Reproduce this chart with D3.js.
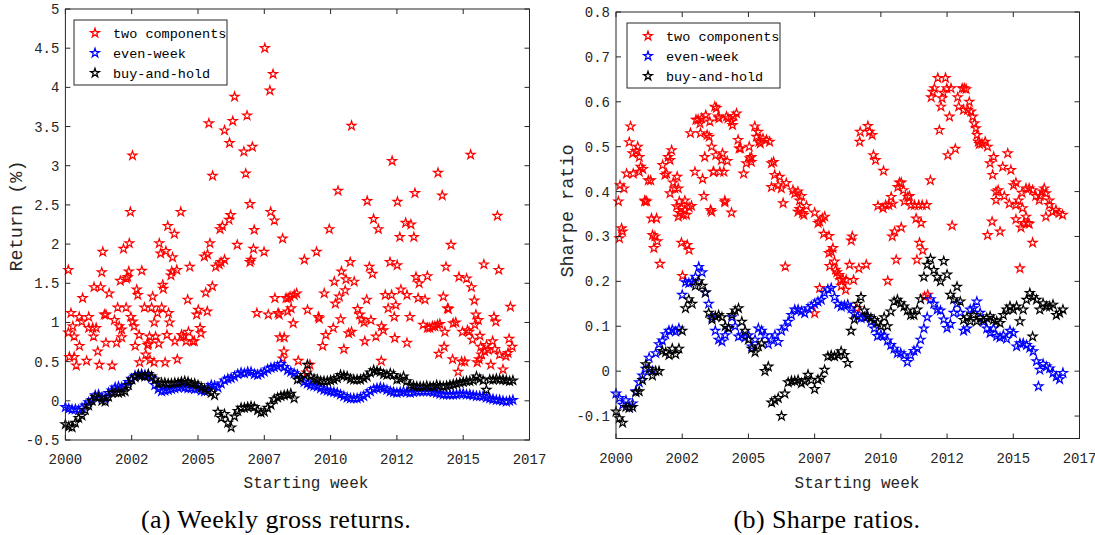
<!DOCTYPE html>
<html>
<head>
<meta charset="utf-8">
<script src="https://cdn.jsdelivr.net/npm/d3@7"></script>
<style>
  body { margin: 0; background: #fff; }
  svg { display: block; }
</style>
</head>
<body>
<svg id="fig" width="1095" height="535"></svg>
<script>
// ---- data ----
const xTickVals = [2000, 2002.5, 2005, 2007.5, 2010, 2012.5, 2015, 2017.5];
const xTickLabels = ["2000", "2002", "2005", "2007", "2010", "2012", "2015", "2017"];
const retTicks = [-0.5, 0, 0.5, 1, 1.5, 2, 2.5, 3, 3.5, 4, 4.5, 5];
const sharpeTicks = [-0.1, 0, 0.1, 0.2, 0.3, 0.4, 0.5, 0.6, 0.7, 0.8];
const seriesNames = ["two components", "even-week", "buy-and-hold"];

// dense series are sampled every 1/8 year starting at 2000
const gridStart = 2000, gridStep = 0.125;

// (a) weekly gross returns, two components: [year, return %]
const retTwo = [
  [2002.53,3.13],[2005.41,3.54],[2005.55,2.87],[2006.00,3.45],[2006.19,3.29],[2006.31,3.57],[2006.38,3.88],
  [2006.73,3.18],[2006.80,2.90],[2006.85,3.64],[2007.05,3.24],[2007.52,4.50],[2007.71,3.96],[2007.83,4.17],
  [2010.28,2.68],[2010.79,3.51],[2012.32,3.06],[2013.18,2.65],[2014.05,2.91],[2014.21,2.62],[2015.28,3.14],
  [2000.11,1.67],[2000.11,0.87],[2000.21,1.12],[2000.28,0.95],[2000.33,0.82],[2000.15,0.56],[2000.33,0.56],
  [2000.41,0.45],[2000.52,1.07],[2000.53,0.70],[2000.62,1.01],[2000.65,1.31],[2000.80,0.51],[2000.88,1.07],
  [2000.88,0.93],[2001.03,0.93],[2001.06,0.82],[2001.08,1.45],[2001.16,0.93],[2001.22,0.63],[2001.28,0.46],
  [2001.33,1.45],[2001.37,1.64],[2001.41,1.90],[2001.47,1.10],[2001.53,1.10],[2001.53,0.74],[2001.65,1.37],
  [2001.76,0.45],[2001.85,1.03],[2001.93,0.74],[2001.97,1.19],[2002.03,0.95],[2002.07,1.53],[2002.12,0.91],
  [2002.12,0.81],[2002.19,1.94],[2002.29,1.19],[2002.30,1.56],[2002.35,1.58],[2002.39,1.65],[2002.41,2.01],
  [2002.45,2.41],[2002.47,1.07],[2002.54,1.01],[2002.59,0.95],[2002.63,0.70],[2002.69,1.42],[2002.73,1.35],
  [2002.78,0.84],[2002.80,0.49],[2002.88,1.66],[2002.98,1.19],[2003.03,0.59],[2003.10,0.71],[2003.13,0.73],
  [2003.17,0.82],[2003.19,0.52],[2003.25,1.19],[2003.29,1.33],[2003.34,0.49],[2003.35,1.00],[2003.40,0.82],
  [2003.47,1.12],[2003.52,0.73],[2003.54,2.01],[2003.59,1.88],[2003.63,1.19],[2003.67,1.48],[2003.69,1.43],
  [2003.76,0.49],[2003.79,1.91],[2003.83,0.84],[2003.86,2.23],[2003.89,1.12],[2003.93,1.00],[2003.98,1.60],
  [2004.01,1.65],[2004.04,1.83],[2004.11,2.13],[2004.13,0.76],[2004.20,1.67],[2004.22,0.53],[2004.35,2.41],
  [2004.38,0.84],[2004.45,0.82],[2004.55,0.76],[2004.61,1.29],[2004.64,0.88],[2004.69,1.71],[2004.80,0.76],
  [2004.86,0.76],[2004.95,1.10],[2005.01,1.16],[2005.08,0.93],[2005.11,0.86],[2005.24,1.84],[2005.29,1.38],
  [2005.36,1.87],[2005.35,1.14],[2005.45,2.01],[2005.54,1.46],[2005.67,1.71],[2005.80,1.74],[2005.87,1.77],
  [2005.83,2.19],[2005.92,2.23],[2006.00,1.80],[2006.17,2.31],[2006.23,2.37],[2006.48,1.99],[2006.96,2.51],
  [2006.96,1.77],[2007.00,1.80],[2007.09,1.94],[2007.12,2.18],[2007.22,1.12],[2007.49,1.90],[2007.65,1.10],
  [2007.74,2.41],[2007.88,2.30],[2007.90,1.31],[2008.02,1.12],[2008.06,1.10],[2008.09,0.81],[2008.19,2.07],
  [2008.25,0.81],[2008.24,0.63],[2008.19,0.54],[2008.32,1.31],[2008.38,1.14],[2008.40,1.31],[2008.47,1.33],
  [2008.51,1.18],[2008.59,0.99],[2008.63,1.35],[2008.72,1.37],[2008.78,0.51],[2009.01,1.80],[2009.10,0.36],
  [2009.13,1.16],[2009.22,0.46],[2009.47,1.90],[2009.54,1.07],[2009.57,1.05],[2009.70,0.70],[2009.76,1.37],
  [2009.82,0.84],[2009.95,2.19],[2010.10,0.93],[2010.14,1.52],[2010.18,1.24],[2010.33,1.33],[2010.38,1.04],
  [2010.41,1.65],[2010.50,0.66],[2010.55,1.41],[2010.58,1.55],[2010.68,0.86],[2010.74,1.77],[2010.79,0.88],
  [2010.89,1.52],[2011.02,1.17],[2011.10,1.10],[2011.17,1.04],[2011.26,1.00],[2011.29,0.76],[2011.36,1.29],
  [2011.38,2.55],[2011.46,1.71],[2011.52,1.03],[2011.58,1.62],[2011.62,2.32],[2011.71,0.82],[2011.80,2.19],
  [2011.91,0.51],[2011.92,0.95],[2011.99,0.90],[2012.06,1.35],[2012.17,1.18],[2012.24,1.77],[2012.30,1.35],
  [2012.40,1.07],[2012.42,0.80],[2012.46,1.22],[2012.51,1.73],[2012.52,2.54],[2012.61,2.09],[2012.65,1.42],
  [2012.83,2.27],[2012.88,1.35],[2012.88,0.74],[2012.99,1.07],[2013.03,2.25],[2013.14,2.09],[2013.22,1.58],
  [2013.34,1.50],[2013.30,1.31],[2013.49,0.97],[2013.56,1.29],[2013.65,1.59],[2013.65,0.93],[2013.74,0.93],
  [2013.84,0.95],[2013.93,0.95],[2014.03,0.97],[2014.08,0.60],[2014.12,0.98],[2014.25,1.33],[2014.28,0.69],
  [2014.31,0.88],[2014.35,1.71],[2014.41,1.18],[2014.44,1.17],[2014.54,1.99],[2014.60,0.53],[2014.62,0.99],
  [2014.72,1.00],[2014.81,0.37],[2014.84,1.58],[2014.94,0.50],[2014.97,0.88],[2015.06,0.50],[2015.13,1.56],
  [2015.16,0.90],[2015.22,0.88],[2015.31,1.45],[2015.35,0.78],[2015.42,1.28],[2015.44,0.97],[2015.48,1.10],
  [2015.53,0.49],[2015.57,1.03],[2015.60,0.53],[2015.63,0.83],[2015.66,0.69],[2015.69,0.59],[2015.78,1.74],
  [2015.81,0.63],[2015.88,0.71],[2015.94,0.65],[2016.04,0.46],[2016.11,0.76],[2016.16,1.07],[2016.19,0.66],
  [2016.23,1.01],[2016.29,2.36],[2016.34,1.67],[2016.37,0.59],[2016.50,0.40],[2016.61,0.57],[2016.69,0.61],
  [2016.73,0.79],[2016.78,1.20],[2016.85,0.69]
];

// (a) even-week, every 1/8 year from 2000
const retEven = [
  -0.08,-0.10,-0.11,-0.11,-0.12,-0.09,-0.06,-0.02, 0.01, 0.07, 0.08, 0.04, 0.03, 0.10, 0.13, 0.17,
   0.18, 0.17, 0.19, 0.24, 0.28, 0.32, 0.33, 0.34, 0.33, 0.32, 0.29, 0.20, 0.15, 0.12, 0.13, 0.14,
   0.15, 0.16, 0.17, 0.18, 0.17, 0.16, 0.16, 0.15, 0.16, 0.13, 0.12, 0.17, 0.20, 0.19, 0.17, 0.22,
   0.26, 0.28, 0.29, 0.31, 0.34, 0.36, 0.35, 0.37, 0.37, 0.34, 0.33, 0.35, 0.37, 0.40, 0.42, 0.43,
   0.44, 0.47, 0.43, 0.39, 0.37, 0.35, 0.33, 0.28, 0.24, 0.22, 0.20, 0.19, 0.18, 0.16, 0.14, 0.13,
   0.12, 0.11, 0.10, 0.08, 0.06, 0.04, 0.03, 0.03, 0.03, 0.04, 0.06, 0.09, 0.12, 0.15, 0.16, 0.17,
   0.16, 0.14, 0.12, 0.11, 0.10, 0.11, 0.12, 0.11, 0.10, 0.11, 0.12, 0.12, 0.12, 0.12, 0.12, 0.11,
   0.10, 0.09, 0.08, 0.08, 0.08, 0.08, 0.08, 0.09, 0.09, 0.08, 0.08, 0.07, 0.06, 0.06, 0.06, 0.04,
   0.03, 0.02, 0.01, 0.01, 0.00,-0.01, 0.00, 0.01
];

// (a) buy-and-hold, every 1/8 year from 2000
const retBuy = [
  -0.30,-0.33,-0.34,-0.28,-0.22,-0.19,-0.12,-0.06, 0.00, 0.05, 0.04, 0.00,-0.01, 0.05, 0.10, 0.11,
   0.10, 0.11, 0.12, 0.20, 0.27, 0.30, 0.33, 0.32, 0.31, 0.34, 0.31, 0.27, 0.22, 0.23, 0.23, 0.22,
   0.22, 0.23, 0.23, 0.24, 0.25, 0.24, 0.22, 0.22, 0.20, 0.17, 0.15, 0.13, 0.10, 0.07,-0.14,-0.22,
  -0.17,-0.28,-0.34,-0.20,-0.13,-0.09,-0.09,-0.08,-0.07,-0.08,-0.12,-0.15,-0.14,-0.09,-0.05, 0.02,
   0.04, 0.06, 0.07, 0.08, 0.09, 0.03, 0.27, 0.29, 0.33, 0.46, 0.31, 0.28, 0.27, 0.25, 0.25, 0.25,
   0.26, 0.27, 0.29, 0.33, 0.32, 0.31, 0.28, 0.27, 0.27, 0.27, 0.29, 0.31, 0.36, 0.39, 0.38, 0.37,
   0.34, 0.33, 0.35, 0.33, 0.27, 0.28, 0.31, 0.25, 0.20, 0.19, 0.18, 0.18, 0.18, 0.19, 0.18, 0.18,
   0.20, 0.19, 0.18, 0.19, 0.20, 0.21, 0.22, 0.23, 0.24, 0.25, 0.25, 0.26, 0.31, 0.28, 0.26, 0.14,
   0.27, 0.27, 0.28, 0.27, 0.27, 0.26, 0.25, 0.26
];

// (b) Sharpe ratios, two components: [year, ratio]
const shTwo = [
  [2000.15,0.414],[2000.30,0.407],[2000.40,0.44],[2000.50,0.51],[2000.55,0.545],[2000.63,0.485],[2000.65,0.44],
  [2000.75,0.49],[2000.82,0.50],[2000.88,0.477],[2000.88,0.444],[2000.93,0.455],[2001.01,0.45],[2001.09,0.38],
  [2001.22,0.425],[2001.31,0.425],[2001.76,0.459],[2001.85,0.437],[2001.91,0.44],[2001.97,0.477],[2002.04,0.47],
  [2002.04,0.396],[2002.10,0.492],[2002.16,0.42],[2002.22,0.407],[2002.31,0.433],[2002.35,0.407],[2002.60,0.38],
  [2002.81,0.53],[2002.98,0.444],[2003.02,0.56],[2003.10,0.56],[2003.17,0.552],[2003.19,0.53],[2003.23,0.563],
  [2003.27,0.428],[2003.32,0.39],[2003.35,0.477],[2003.39,0.57],[2003.44,0.526],[2003.52,0.522],[2003.54,0.556],
  [2003.61,0.50],[2003.67,0.444],[2003.69,0.444],[2003.73,0.589],[2003.79,0.586],[2003.77,0.481],[2003.86,0.567],
  [2003.89,0.563],[2003.92,0.444],[2003.98,0.47],[2004.02,0.485],[2004.07,0.444],[2004.11,0.38],[2004.17,0.567],
  [2004.20,0.468],[2004.23,0.563],[2004.36,0.556],[2004.40,0.548],[2004.45,0.568],[2004.55,0.574],[2004.61,0.515],
  [2004.65,0.496],[2004.70,0.496],[2004.82,0.44],[2004.92,0.463],[2005.03,0.50],[2005.05,0.474],[2005.11,0.477],
  [2005.11,0.466],[2005.24,0.545],[2005.30,0.522],[2005.36,0.533],[2005.40,0.511],[2005.45,0.507],[2005.55,0.518],
  [2005.68,0.515],[2005.80,0.511],[2005.87,0.463],[2005.87,0.41],[2005.95,0.466],[2005.99,0.437],[2006.12,0.414],
  [2006.18,0.433],[2006.24,0.407],[2006.43,0.419],[2006.68,0.403],[2006.75,0.396],[2006.87,0.40],[2006.93,0.38],
  [2007.00,0.39],[2009.20,0.511],[2009.22,0.533],[2009.51,0.546],[2009.57,0.533],[2009.67,0.526],[2009.72,0.481],
  [2009.80,0.47],[2010.10,0.446],[2010.39,0.388],[2010.64,0.41],[2010.70,0.42],[2010.77,0.42],[2010.85,0.403],
  [2011.02,0.388],[2011.08,0.39],[2011.87,0.425],[2011.90,0.61],[2011.96,0.622],[2012.02,0.63],[2012.15,0.653],
  [2012.21,0.537],[2012.27,0.589],[2012.31,0.608],[2012.36,0.62],[2012.44,0.653],[2012.49,0.63],[2012.53,0.481],
  [2012.59,0.567],[2012.65,0.63],[2012.81,0.495],[2012.90,0.61],[2012.94,0.589],[2013.07,0.63],[2013.12,0.582],
  [2013.15,0.63],[2013.22,0.628],[2013.28,0.582],[2013.34,0.60],[2013.40,0.578],[2013.47,0.567],[2013.53,0.552],
  [2013.59,0.541],[2013.63,0.526],[2013.68,0.511],[2013.72,0.506],[2013.82,0.507],[2013.94,0.511],[2014.03,0.50],
  [2014.12,0.463],[2014.22,0.437],[2014.26,0.477],[2014.35,0.40],[2014.43,0.403],[2014.60,0.455],[2014.66,0.39],
  [2014.79,0.485],[2014.91,0.448],[2015.01,0.414],[2015.10,0.42],[2015.20,0.38],[2015.33,0.397],[2015.48,0.407],
  [2015.60,0.407],[2015.73,0.403],[2015.85,0.39],[2016.01,0.39],[2016.11,0.40],[2016.17,0.407],[2016.23,0.396],
  [2016.36,0.38],
  [2000.09,0.378],[2000.13,0.296],[2000.21,0.318],[2000.25,0.311],[2001.09,0.378],[2001.16,0.378],[2001.34,0.34],
  [2001.53,0.34],[2001.38,0.303],[2001.47,0.30],[2001.43,0.274],[2001.56,0.289],[2001.66,0.239],[2002.29,0.367],
  [2002.35,0.344],[2002.41,0.352],[2002.47,0.363],[2002.54,0.348],[2002.39,0.378],[2002.60,0.359],[2002.66,0.348],
  [2002.76,0.365],[2002.85,0.368],[2002.47,0.286],[2002.69,0.281],[2002.76,0.27],[2002.51,0.212],[2003.57,0.359],
  [2003.61,0.355],[2004.11,0.376],[2004.36,0.353],[2006.31,0.374],[2006.39,0.233],[2006.87,0.355],[2006.93,0.361],
  [2007.04,0.352],[2007.09,0.348],[2007.19,0.368],[2007.50,0.353],[2007.63,0.33],[2007.69,0.333],[2007.79,0.34],
  [2007.88,0.344],[2007.84,0.306],[2008.04,0.301],[2007.69,0.185],[2007.50,0.129],[2008.04,0.263],[2008.13,0.266],
  [2008.19,0.274],[2008.25,0.244],[2008.07,0.234],[2008.29,0.226],[2008.34,0.22],[2008.42,0.214],[2008.47,0.203],
  [2008.51,0.19],[2008.57,0.205],[2008.67,0.181],[2008.69,0.203],[2008.82,0.237],[2008.88,0.291],[2008.92,0.30],
  [2008.97,0.203],[2009.17,0.229],[2009.45,0.237],[2009.10,0.14],[2009.89,0.368],[2010.08,0.363],[2010.18,0.37],
  [2010.30,0.37],[2010.43,0.30],[2010.52,0.311],[2010.58,0.248],[2010.45,0.373],[2010.77,0.32],[2010.26,0.201],
  [2010.89,0.378],[2011.14,0.37],[2011.27,0.37],[2011.43,0.37],[2011.56,0.37],[2011.73,0.37],[2011.33,0.34],
  [2011.52,0.33],[2011.46,0.286],[2011.58,0.269],[2011.36,0.248],[2011.65,0.166],[2011.77,0.17],[2012.69,0.324],
  [2014.03,0.303],[2014.20,0.333],[2014.35,0.381],[2014.50,0.311],[2014.85,0.373],[2015.10,0.37],[2015.35,0.363],
  [2015.10,0.338],[2015.25,0.229],[2015.29,0.32],[2015.41,0.33],[2015.48,0.344],[2015.54,0.33],[2015.60,0.328],
  [2015.73,0.286],[2015.98,0.381],[2016.23,0.344],[2016.36,0.37],[2016.48,0.355],[2016.61,0.359],[2016.73,0.352],
  [2016.86,0.348]
];

// (b) even-week, every 1/8 year from 2000
const shEven = [
  -0.050,-0.060,-0.075,-0.065,-0.080,-0.072,-0.045,-0.025,-0.010, 0.005, 0.030, 0.000, 0.040, 0.060, 0.068, 0.082,
   0.090, 0.092, 0.088, 0.095, 0.170, 0.198, 0.196, 0.200, 0.210, 0.232, 0.220, 0.175, 0.150, 0.120, 0.090, 0.070,
   0.066, 0.080, 0.095, 0.120, 0.100, 0.077, 0.080, 0.075, 0.080, 0.055, 0.070, 0.095, 0.090, 0.080, 0.060, 0.070,
   0.080, 0.065, 0.090, 0.099, 0.110, 0.125, 0.137, 0.137, 0.133, 0.129, 0.140, 0.145, 0.150, 0.155, 0.159, 0.174,
   0.182, 0.185, 0.165, 0.150, 0.144, 0.146, 0.148, 0.140, 0.128, 0.122, 0.118, 0.120, 0.122, 0.110, 0.095, 0.078,
   0.081, 0.079, 0.068, 0.058, 0.050, 0.040, 0.040, 0.035, 0.020, 0.035, 0.045, 0.050, 0.070, 0.095, 0.120, 0.160,
   0.150, 0.137, 0.135, 0.115, 0.096, 0.105, 0.130, 0.150, 0.130, 0.090, 0.095, 0.137, 0.140, 0.155, 0.130, 0.110,
   0.095, 0.085, 0.095, 0.078, 0.075, 0.080, 0.072, 0.090, 0.085, 0.055, 0.062, 0.062, 0.058, 0.052, 0.044, 0.022,
   0.003, 0.016, 0.010, 0.006,-0.004,-0.012,-0.018,-0.004
];
const shEvenExtra = [[2015.95, -0.034]];

// (b) buy-and-hold, every 1/8 year from 2000
const shBuy = [
  -0.090,-0.105,-0.115,-0.080,-0.082,-0.080,-0.047,-0.045,-0.020, 0.015, 0.005,-0.010, 0.000, 0.000, 0.045, 0.042,
   0.036, 0.050, 0.038, 0.050, 0.090, 0.140, 0.160, 0.150, 0.190, 0.200, 0.190, 0.175, 0.130, 0.115, 0.122, 0.125,
   0.120, 0.100, 0.096, 0.125, 0.135, 0.140, 0.110, 0.090, 0.070, 0.050, 0.042, 0.055, 0.062, 0.000, 0.010,-0.070,
  -0.065,-0.060,-0.100,-0.050,-0.025,-0.022,-0.022,-0.020,-0.027,-0.023,-0.008,-0.020,-0.040,-0.019,-0.015, 0.003,
   0.033, 0.035, 0.033, 0.036, 0.044, 0.036, 0.018, 0.090, 0.115, 0.150, 0.165, 0.135, 0.122, 0.118, 0.114, 0.108,
   0.100, 0.120, 0.100, 0.133, 0.155, 0.159, 0.151, 0.144, 0.135, 0.125, 0.125, 0.137, 0.160, 0.210, 0.237, 0.250,
   0.225, 0.210, 0.200, 0.245, 0.215, 0.170, 0.160, 0.188, 0.155, 0.114, 0.120, 0.111, 0.125, 0.111, 0.118, 0.114,
   0.118, 0.122, 0.114, 0.111, 0.107, 0.125, 0.137, 0.144, 0.137, 0.144, 0.111, 0.137, 0.159, 0.174, 0.165, 0.159,
   0.137, 0.151, 0.144, 0.144, 0.148, 0.125, 0.130, 0.137
];
const shBuyExtra = [[2015.73, 0.077]];

// ---- drawing ----
const colors = ["#ff0000", "#0000ff", "#000000"];
const axisColor = "#262626";
const monoFont = "'Liberation Mono', 'DejaVu Sans Mono', monospace";
const svg = d3.select("#fig");
const star = d3.symbol().type(d3.symbolStar).size(25);

function gridPoints(vals) {
  return vals.map((v, i) => [gridStart + i * gridStep, v]);
}

function panel(p) {
  const x = d3.scaleLinear().domain([2000, 2017.5]).range([p.left, p.right]);
  const y = d3.scaleLinear().domain(p.yDomain).range([p.bottom, p.top]);
  const g = svg.append("g");

  // series, in legend order
  p.series.forEach((pts, k) => {
    g.append("g")
      .selectAll("path")
      .data(pts)
      .join("path")
        .attr("d", star)
        .attr("transform", d => `translate(${x(d[0])},${y(d[1])})`)
        .attr("fill", "none")
        .attr("stroke", colors[k])
        .attr("stroke-width", 1.2);
  });

  // box with inward ticks on all sides
  const tl = 5;
  const axes = g.append("g").attr("stroke", axisColor).attr("stroke-width", 1).attr("fill", "none");
  axes.append("rect")
    .attr("x", p.left).attr("y", p.top)
    .attr("width", p.right - p.left).attr("height", p.bottom - p.top);
  xTickVals.forEach(v => {
    axes.append("line").attr("x1", x(v)).attr("x2", x(v)).attr("y1", p.bottom).attr("y2", p.bottom - tl);
    axes.append("line").attr("x1", x(v)).attr("x2", x(v)).attr("y1", p.top).attr("y2", p.top + tl);
  });
  p.yTicks.forEach(v => {
    axes.append("line").attr("x1", p.left).attr("x2", p.left + tl).attr("y1", y(v)).attr("y2", y(v));
    axes.append("line").attr("x1", p.right).attr("x2", p.right - tl).attr("y1", y(v)).attr("y2", y(v));
  });

  const labels = g.append("g")
    .attr("font-family", monoFont)
    .attr("font-size", 14)
    .attr("fill", axisColor);
  labels.selectAll(".xt")
    .data(xTickVals)
    .join("text")
      .attr("x", d => x(d))
      .attr("y", p.bottom + 24)
      .attr("text-anchor", "middle")
      .text((d, i) => xTickLabels[i]);
  labels.selectAll(".yt")
    .data(p.yTicks)
    .join("text")
      .attr("x", p.left - 6)
      .attr("y", d => y(d) + 5)
      .attr("text-anchor", "end")
      .text(d => String(d));

  g.append("text")
    .attr("x", p.xlabelX).attr("y", 488)
    .attr("text-anchor", "middle")
    .attr("font-family", monoFont).attr("font-size", 16)
    .attr("fill", axisColor)
    .text("Starting week");

  g.append("text")
    .attr("transform", `translate(${p.ylabelX},${p.ylabelY}) rotate(-90)`)
    .attr("text-anchor", "middle")
    .attr("dy", "0.35em")
    .attr("font-family", monoFont).attr("font-size", 18.5)
    .attr("fill", axisColor)
    .text(p.ylabel);

  // legend
  const lg = g.append("g");
  lg.append("rect")
    .attr("x", p.legX).attr("y", p.legY)
    .attr("width", 153).attr("height", 65)
    .attr("fill", "#fff")
    .attr("stroke", axisColor).attr("stroke-width", 1);
  seriesNames.forEach((name, k) => {
    const cy = p.legY + 13 + k * 20;
    lg.append("path")
      .attr("d", star)
      .attr("transform", `translate(${p.legX + 21},${cy})`)
      .attr("fill", "none").attr("stroke", colors[k]).attr("stroke-width", 1.2);
    lg.append("text")
      .attr("x", p.legX + 39).attr("y", cy + 5)
      .attr("font-family", monoFont).attr("font-size", 13.5)
      .attr("fill", "#000")
      .text(name);
  });

  svg.append("text")
    .attr("x", p.captionX).attr("y", 528)
    .attr("text-anchor", "middle")
    .attr("font-family", "'Liberation Serif', 'DejaVu Serif', serif")
    .attr("font-size", 26)
    .attr("letter-spacing", 0.4)
    .attr("fill", "#000")
    .text(p.caption);
}

panel({
  left: 65.4, right: 529.5, top: 9, bottom: 440,
  yDomain: [-0.5, 5], yTicks: retTicks,
  series: [retTwo, gridPoints(retEven), gridPoints(retBuy)],
  ylabel: "Return (%)", ylabelX: 16, ylabelY: 216,
  xlabelX: 306,
  legX: 74, legY: 20,
  caption: "(a) Weekly gross returns.", captionX: 276
});

panel({
  left: 616, right: 1079.5, top: 12, bottom: 438.5,
  yDomain: [-0.15, 0.8], yTicks: sharpeTicks,
  series: [shTwo, gridPoints(shEven).concat(shEvenExtra), gridPoints(shBuy).concat(shBuyExtra)],
  ylabel: "Sharpe ratio", ylabelX: 567, ylabelY: 211,
  xlabelX: 857,
  legX: 627, legY: 23,
  caption: "(b) Sharpe ratios.", captionX: 827
});
</script>
</body>
</html>
